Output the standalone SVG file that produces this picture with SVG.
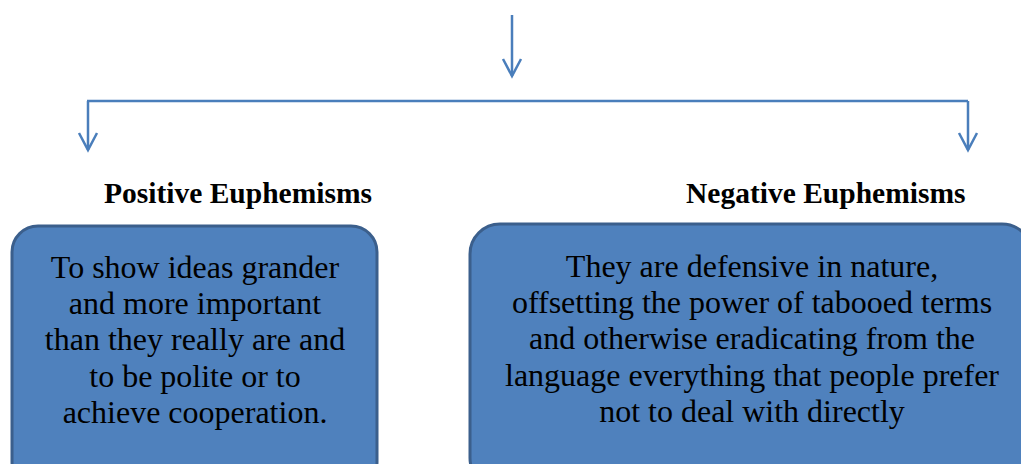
<svg xmlns="http://www.w3.org/2000/svg" width="1021" height="464" viewBox="0 0 1021 464">
<style>
.conn{stroke:#4A7EBB;stroke-width:2.5;fill:none}
.box{fill:#4F81BD;stroke:#3B5F8C;stroke-width:3}
text{font-family:'Liberation Serif','Times New Roman',Times,'DejaVu Serif',serif;fill:#000}
.head{font-weight:bold;font-size:29.5px}
.body{font-size:32px;text-anchor:middle}
</style>
<rect width="1021" height="464" fill="#fff"/>
<g id="connectors">
<line class="conn" x1="512" y1="15" x2="512" y2="76"/>
<polyline class="conn" points="503,59 512,76 521,59"/>
<line class="conn" x1="87" y1="101" x2="968" y2="101"/>
<line class="conn" x1="88" y1="101" x2="88" y2="150"/>
<polyline class="conn" points="79,133 88,150 97,133"/>
<line class="conn" x1="968" y1="101" x2="968" y2="150"/>
<polyline class="conn" points="959,133 968,150 977,133"/>
</g>
<g id="label-positive">
<text class="head" x="104" y="203">Positive Euphemisms</text>
</g>
<g id="label-negative">
<text class="head" x="686" y="203">Negative Euphemisms</text>
</g>
<g id="node-positive">
<rect class="box" x="12" y="226" width="365" height="262" rx="26"/>
<text class="body" x="195" y="278">To show ideas grander</text>
<text class="body" x="195" y="314">and more important</text>
<text class="body" x="195" y="350">than they really are and</text>
<text class="body" x="195" y="387">to be polite or to</text>
<text class="body" x="195" y="423">achieve cooperation.</text>
</g>
<g id="node-negative">
<rect class="box" x="470" y="224" width="562" height="264" rx="30"/>
<text class="body" x="752" y="277">They are defensive in nature,</text>
<text class="body" x="752" y="313">offsetting the power of tabooed terms</text>
<text class="body" x="752" y="349">and otherwise eradicating from the</text>
<text class="body" x="752" y="386">language everything that people prefer</text>
<text class="body" x="752" y="422">not to deal with directly</text>
</g>
</svg>
